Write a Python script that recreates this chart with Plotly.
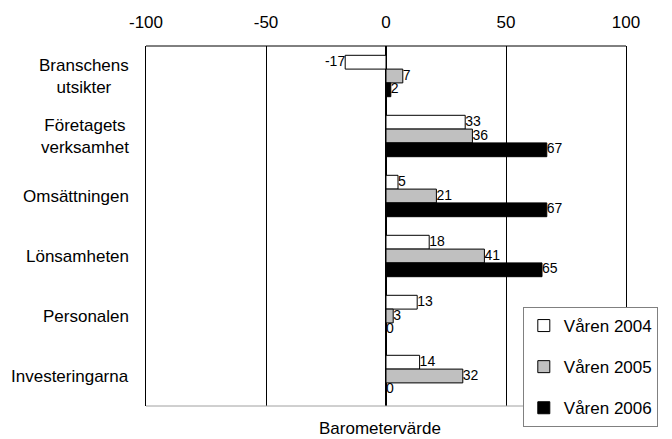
import plotly.graph_objects as go

# Survey categories and barometer values per spring survey
categories = ["Branschens<br>utsikter", "Företagets<br>verksamhet", "Omsättningen",
              "Lönsamheten", "Personalen", "Investeringarna"]
series_names = ["Våren 2004", "Våren 2005", "Våren 2006"]
v2004 = [-17, 33, 5, 18, 13, 14]
v2005 = [7, 36, 21, 41, 3, 32]
v2006 = [2, 67, 67, 65, 0, 0]
x_ticks = [-100, -50, 0, 50, 100]
x_tick_labels = ["-100", "-50", "0", "50", "100"]
x_title = "Barometervärde"

series_values = [v2004, v2005, v2006]
fills = ["#ffffff", "#c0c0c0", "#000000"]
bar_w = 0.23
offsets = [-bar_w, 0.0, bar_w]
font_family = "Liberation Sans, Arial, sans-serif"
big = 17

fig = go.Figure()
idx = list(range(len(categories)))

for name, vals, fill, off in zip(series_names, series_values, fills, offsets):
    ys = [i + off for i in idx]
    fig.add_trace(go.Bar(
        x=vals, y=ys, orientation="h", width=bar_w, name=name,
        legendgroup=name,
        marker=dict(color=fill, line=dict(color="#000000", width=1)),
    ))
    fig.add_trace(go.Scatter(
        x=vals, y=ys, mode="text", text=[str(v) for v in vals],
        textposition=["middle left" if v < 0 else "middle right" for v in vals],
        textfont=dict(size=14, color="#000000", family=font_family),
        legendgroup=name, showlegend=False, hoverinfo="skip", cliponaxis=False,
    ))

# Category labels, right-aligned against the plot with centered lines
annotations = []
for i, cat in enumerate(categories):
    annotations.append(dict(
        x=0, xref="paper", y=i, yref="y", text=cat, showarrow=False,
        xanchor="right", yanchor="middle", align="center", xshift=-15,
        font=dict(size=big, color="#000000", family=font_family),
    ))
annotations.append(dict(
    x=0.4875, xref="paper", y=0, yref="paper", yshift=-22, text=x_title,
    showarrow=False, xanchor="center", yanchor="middle",
    font=dict(size=big, color="#000000", family=font_family),
))

# Plot frame: dark top edge, light bottom edge
shapes = [
    dict(type="line", xref="paper", yref="paper", x0=0, x1=1, y0=1, y1=1,
         line=dict(color="#000000", width=1)),
    dict(type="line", xref="paper", yref="paper", x0=0, x1=1, y0=0, y1=0,
         line=dict(color="#a0a0a0", width=1)),
]

fig.update_layout(
    width=672, height=439, autosize=False,
    margin=dict(l=146, r=46, t=46, b=28),
    paper_bgcolor="#ffffff", plot_bgcolor="#ffffff",
    barmode="overlay", showlegend=True,
    font=dict(family=font_family, size=big, color="#000000"),
    annotations=annotations, shapes=shapes,
    legend=dict(
        x=0.785, y=0.275, xanchor="left", yanchor="top",
        bgcolor="#ffffff", bordercolor="#808080", borderwidth=1,
        font=dict(size=big, color="#000000", family=font_family),
        tracegroupgap=16, traceorder="grouped",
    ),
    xaxis=dict(
        side="top", range=[-100, 100], tickvals=x_ticks, ticktext=x_tick_labels,
        ticks="", ticklabelstandoff=14, tickfont=dict(size=big),
        showgrid=True, gridcolor="#000000", gridwidth=1,
        zeroline=True, zerolinecolor="#000000", zerolinewidth=2,
        showline=False, fixedrange=True,
    ),
    yaxis=dict(
        range=[5.5, -0.5], showticklabels=False, ticks="",
        showgrid=False, zeroline=False,
        showline=True, linecolor="#000000", linewidth=1, mirror=True,
        fixedrange=True,
    ),
)

fig.write_html("out.html")
